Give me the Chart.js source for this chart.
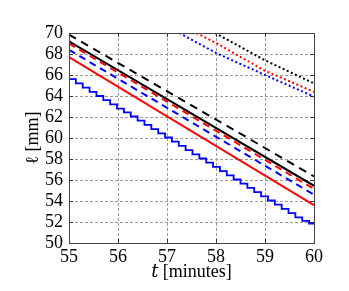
<!DOCTYPE html>
<html><head><meta charset="utf-8">
<script src="https://cdn.jsdelivr.net/npm/chart.js@4/dist/chart.umd.min.js"></script>
<style>html,body{margin:0;padding:0;background:#fff}#wrap{width:349px;height:291px}</style>
</head><body><div id="wrap"><canvas id="c" width="349" height="291"></canvas></div>
<script>
// ---- data ----
const xTicks = [55, 56, 57, 58, 59, 60];
const yTicks = [50, 52, 54, 56, 58, 60, 62, 64, 66, 68, 70];

const tLine = [55, 60];
const blackSolid = [69.2, 55.45];
const blackDashed = [69.85, 56.35];
const redSolid = [67.7, 53.6];
const redDashed = [69.0, 55.15];
const blueDashed = [68.4, 54.6];

const tBlueStep = [55.00, 55.14, 55.28, 55.42, 55.56, 55.70, 55.84, 55.98, 56.12, 56.26, 56.40, 56.54,
  56.68, 56.82, 56.96, 57.10, 57.24, 57.38, 57.52, 57.66, 57.80, 57.94, 58.08, 58.22, 58.36, 58.50,
  58.64, 58.78, 58.92, 59.06, 59.20, 59.34, 59.48, 59.62, 59.76, 59.90, 60.00];
const blueStep = [66.0, 65.6, 65.2, 64.8, 64.4, 64.0, 63.6, 63.2, 62.8, 62.45, 62.05, 61.65,
  61.25, 60.85, 60.45, 60.05, 59.65, 59.25, 58.85, 58.45, 58.05, 57.65, 57.25, 56.85, 56.45, 56.05,
  55.65, 55.25, 54.85, 54.45, 54.05, 53.65, 53.25, 52.85, 52.45, 52.1, 51.85];

const tBlackDot = [57.98, 59, 60];
const blackDot = [70.0, 67.4, 65.2];
const tRedDot = [57.6, 58, 59, 60];
const redDot = [70.0, 69.05, 66.4, 64.4];
const tBlueDot = [57.25, 58, 59, 60];
const blueDot = [70.0, 68.1, 66.0, 63.95];

const pts = (xs, ys) => xs.map((x, i) => ({x, y: ys[i]}));
const FONT = "'Liberation Serif', 'DejaVu Serif', serif";

function ds(xs, ys, color, dash, width, extra) {
  return Object.assign({
    data: pts(xs, ys), borderColor: color, backgroundColor: color,
    borderWidth: width, borderDash: dash, pointRadius: 0, tension: 0, fill: false
  }, extra || {});
}

const frame = {
  id: 'frame',
  afterDraw(chart) {
    const {ctx, chartArea: a, scales: {x, y}} = chart;
    ctx.save();
    ctx.strokeStyle = '#333';
    ctx.lineWidth = 1;
    ctx.setLineDash([]);
    ctx.beginPath();
    xTicks.forEach(v => {
      const px = Math.round(x.getPixelForValue(v)) + 0.5;
      ctx.moveTo(px, a.bottom); ctx.lineTo(px, a.bottom - 4);
      ctx.moveTo(px, a.top); ctx.lineTo(px, a.top + 4);
    });
    yTicks.forEach(v => {
      const py = Math.round(y.getPixelForValue(v)) + 0.5;
      ctx.moveTo(a.left, py); ctx.lineTo(a.left + 4, py);
      ctx.moveTo(a.right, py); ctx.lineTo(a.right - 4, py);
    });
    ctx.stroke();
    ctx.strokeStyle = '#444';
    ctx.strokeRect(Math.round(a.left) + 0.5, Math.round(a.top) + 0.5,
      Math.round(a.right - a.left), Math.round(a.bottom - a.top));
    ctx.restore();
  }
};

new Chart(document.getElementById('c'), {
  type: 'line',
  data: {
    datasets: [
      ds(tBlueStep, blueStep, '#0000ff', [], 1.8, {stepped: 'after'}),
      ds(tLine, redSolid, '#ff0000', [], 2),
      ds(tLine, blueDashed, '#0000ff', [7, 5], 2),
      ds(tLine, redDashed, '#ff0000', [7, 5], 2),
      ds(tLine, blackSolid, '#000000', [], 2),
      ds(tLine, blackDashed, '#000000', [8, 6], 2),
      ds(tBlueDot, blueDot, '#0000ff', [2, 2.5], 2),
      ds(tRedDot, redDot, '#ff0000', [2, 2.5], 2),
      ds(tBlackDot, blackDot, '#000000', [2, 2.5], 2)
    ]
  },
  options: {
    responsive: false,
    animation: false,
    devicePixelRatio: 1,
    layout: {padding: {top: 33, right: 35, left: 0, bottom: 0}},
    plugins: {legend: {display: false}, tooltip: {enabled: false}},
    scales: {
      x: {
        type: 'linear', min: 55, max: 60,
        afterBuildTicks: s => { s.ticks = xTicks.map(v => ({value: v})); },
        afterFit: s => { s.height = 48; },
        grid: {color: '#9a9a9a', lineWidth: 1, drawTicks: false},
        border: {display: true, color: '#9a9a9a', dash: [3, 2]},
        ticks: {color: '#000', font: {family: FONT, size: 18}, padding: 3, maxRotation: 0, autoSkip: false},
        title: {display: true, text: '𝑡 [minutes]', color: '#000', font: {family: FONT, size: 18}, padding: {top: 0, bottom: 8}}
      },
      y: {
        min: 50, max: 70,
        afterBuildTicks: s => { s.ticks = yTicks.map(v => ({value: v})); },
        afterFit: s => { s.width = 69; },
        grid: {color: '#9a9a9a', lineWidth: 1, drawTicks: false},
        border: {display: true, color: '#9a9a9a', dash: [3, 2]},
        ticks: {color: '#000', font: {family: FONT, size: 18}, padding: 6, autoSkip: false},
        title: {display: true, text: 'ℓ [mm]', color: '#000', font: {family: FONT, size: 18}, padding: {top: 22, bottom: 0}}
      }
    }
  },
  plugins: [frame]
});
</script></body></html>
